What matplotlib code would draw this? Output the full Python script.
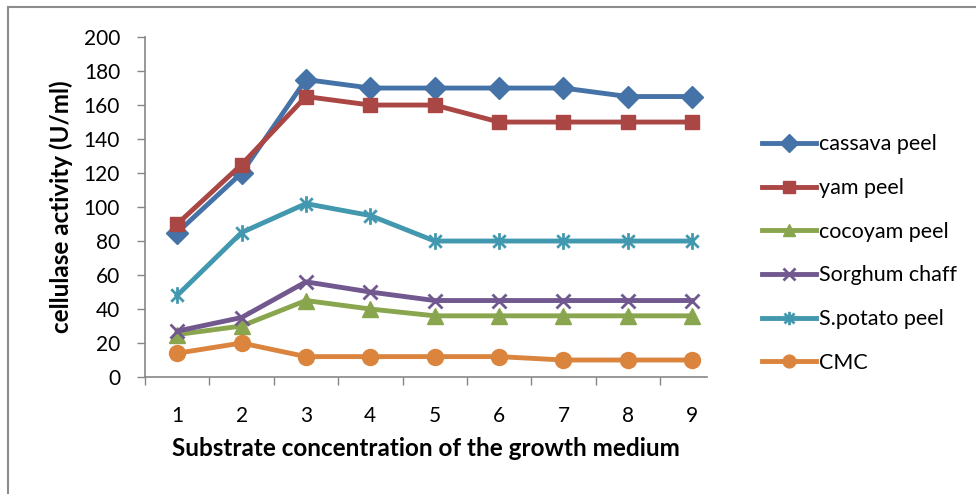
import matplotlib.pyplot as plt
from matplotlib.path import Path
from matplotlib.lines import Line2D

plt.rcParams["font.family"] = ["Lato", "DejaVu Sans"]

concentration = [1, 2, 3, 4, 5, 6, 7, 8, 9]
cassava_peel = [85, 120, 175, 170, 170, 170, 170, 165, 165]
yam_peel = [90, 125, 165, 160, 160, 150, 150, 150, 150]
cocoyam_peel = [25, 30, 45, 40, 36, 36, 36, 36, 36]
sorghum_chaff = [27, 35, 56, 50, 45, 45, 45, 45, 45]
spotato_peel = [48, 85, 102, 95, 80, 80, 80, 80, 80]
cmc = [14, 20, 12, 12, 12, 12, 10, 10, 10]

# Excel-like asterisk: vertical stroke plus an x
asterisk = Path(
    [(0, -1), (0, 1), (-0.75, -0.75), (0.75, 0.75), (-0.75, 0.75), (0.75, -0.75)],
    [Path.MOVETO, Path.LINETO, Path.MOVETO, Path.LINETO, Path.MOVETO, Path.LINETO],
)

series = [
    ("cassava peel", cassava_peel, "#4573A7", "D", 11),
    ("yam peel", yam_peel, "#AA4643", "s", 10.5),
    ("cocoyam peel", cocoyam_peel, "#89A54E", "^", 11.5),
    ("Sorghum chaff", sorghum_chaff, "#71588F", "x", 10),
    ("S.potato peel", spotato_peel, "#4198AF", asterisk, 12),
    ("CMC", cmc, "#DB843D", "o", 11.5),
]

fig = plt.figure(figsize=(9.76, 4.94), dpi=100)
ax = fig.add_axes([0.1486, 0.2368, 0.5758, 0.6882])

for label, vals, color, marker, ms in series:
    mew = 2 if (marker == "x" or marker is asterisk) else 1
    ax.plot(concentration, vals, color=color, lw=3.5, marker=marker, markersize=ms,
            markerfacecolor=color, markeredgecolor=color, markeredgewidth=mew, label=label)

ax.set_xlim(0.5, 9.23)
ax.set_ylim(0, 200)
ax.set_yticks(range(0, 201, 20))
ax.set_xticks(concentration)
ax.set_xticks([x - 0.5 for x in concentration], minor=True)
ax.tick_params(axis="x", which="major", length=0, pad=21, labelsize=15)
ax.tick_params(axis="x", which="minor", length=6, width=1, color="#868686", direction="out")
ax.tick_params(axis="y", length=6, width=1, color="#868686", direction="out", pad=12, labelsize=15)

for side in ("top", "right"):
    ax.spines[side].set_visible(False)
for side in ("left", "bottom"):
    ax.spines[side].set_color("#868686")
    ax.spines[side].set_linewidth(1.2)

ax.set_xlabel("Substrate concentration of the growth medium", fontsize=17.5, fontweight="bold", labelpad=8)
ax.set_ylabel("cellulase activity (U/ml)", fontsize=17.5, fontweight="bold", labelpad=8)

ax.legend(loc="upper left", bbox_to_anchor=(0.781, 0.728), bbox_transform=fig.transFigure,
          frameon=False, fontsize=15.5, borderpad=0, borderaxespad=0,
          handlelength=2.5, handletextpad=0.15, labelspacing=1.1, markerscale=0.8)

# chart area border (only left and top edges visible in the crop)
fig.add_artist(Line2D([8 / 976, 8 / 976], [0, 1 - 7.5 / 494], transform=fig.transFigure,
                      color="#8c8c8c", lw=1.5))
fig.add_artist(Line2D([8 / 976, 1], [1 - 7.5 / 494, 1 - 7.5 / 494], transform=fig.transFigure,
                      color="#8c8c8c", lw=1.5))

fig.savefig("out.png", dpi=100)
